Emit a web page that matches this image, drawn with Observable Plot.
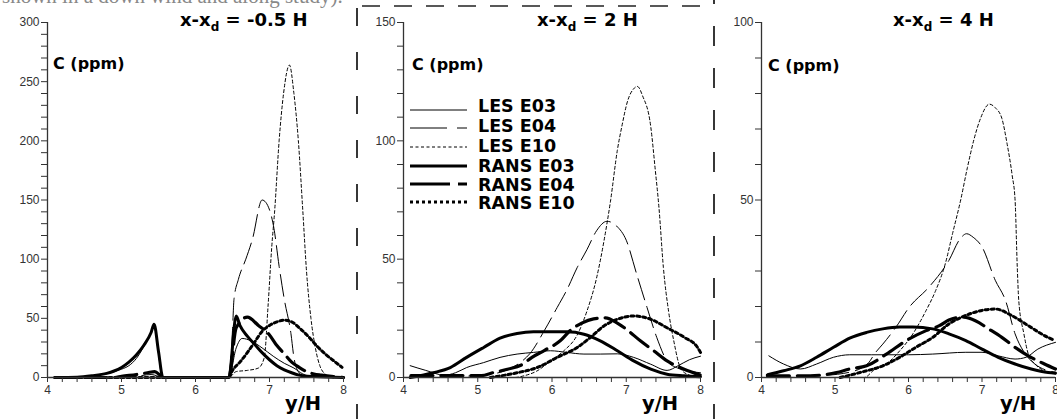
<!DOCTYPE html>
<html><head><meta charset="utf-8">
<script src="https://cdn.jsdelivr.net/npm/d3@7"></script>
<script src="https://cdn.jsdelivr.net/npm/@observablehq/plot@0.6"></script>
<style>
html,body{margin:0;padding:0;background:#fff;}
#wrap{position:relative;width:1057px;height:419px;overflow:hidden;background:#fff;}
.panel{position:absolute;top:0;}
#overlay{position:absolute;left:0;top:0;pointer-events:none;}
</style></head><body>
<div id="wrap"></div>
<script>
// ---------- categories / labels ----------
const seriesNames = ["LES E03","LES E04","LES E10","RANS E03","RANS E04","RANS E10"];
const panelTitles = ["-0.5","2","4"];
const panelYMax = [300,150,100];
const yLabelStep = 50;
const xAxisLabel = "y/H";
const yAxisLabel = "C (ppm)";

// ---------- Panel 1 : x-xd = -0.5 H ----------
const p1_LES_E03 = [[4.1,0],[4.5,0.5],[4.7,2],[4.85,4],[5.0,7],[5.1,10],[5.2,16],[5.3,26],[5.4,38],[5.44,43],[5.5,20],[5.55,0],[6.45,0],[6.55,25],[6.63,33],[6.75,31],[6.9,25],[7.05,18],[7.2,12],[7.33,8],[7.45,3],[7.6,0.5],[8,0]];
const p1_LES_E04 = [[4.1,0],[5.0,0],[5.2,1],[5.4,2.5],[5.5,1],[5.56,0],[6.45,0],[6.5,40],[6.52,66],[6.58,83],[6.68,100],[6.77,117],[6.9,150],[6.95,148],[7.06,126],[7.13,94],[7.2,66],[7.29,37],[7.33,17],[7.4,4],[7.5,0],[8,0]];
const p1_LES_E10 = [[4.1,0],[6.45,0],[6.55,5],[6.7,6],[6.85,8],[6.93,17],[6.98,60],[7.03,110],[7.07,141],[7.13,200],[7.19,240],[7.27,264],[7.33,240],[7.39,200],[7.45,141],[7.5,90],[7.56,50],[7.62,25],[7.68,10],[7.75,3],[7.85,0],[8,0]];
const p1_RANS_E03 = [[4.1,0],[4.4,0.3],[4.6,1.5],[4.8,3.5],[4.9,5.5],[5.0,8.5],[5.1,13],[5.2,19],[5.3,27],[5.4,38],[5.44,45],[5.5,22],[5.56,0],[6.45,0],[6.55,52],[6.6,44],[6.7,35],[6.8,28],[6.9,21],[7.0,15],[7.1,10],[7.2,6.5],[7.3,4],[7.4,2],[7.6,0.8],[8,0]];
const p1_RANS_E04 = [[4.1,0],[4.9,0],[5.0,1],[5.2,2.5],[5.35,4],[5.45,5],[5.52,2],[5.56,0],[6.45,0],[6.55,42],[6.7,51],[6.85,44],[7.0,36],[7.1,27],[7.2,20],[7.3,13],[7.4,8.6],[7.5,5],[7.6,3],[7.7,2],[8,0]];
const p1_RANS_E10 = [[4.1,0],[6.45,0],[6.5,6],[6.6,13],[6.7,21],[6.8,30],[6.9,39],[7.0,44],[7.1,47],[7.2,48.5],[7.3,47],[7.42,41],[7.55,33],[7.65,26],[7.75,20],[7.87,14],[7.98,8.6]];

// ---------- Panel 2 : x-xd = 2 H ----------
const p2_LES_E03 = [[4.09,5],[4.3,3],[4.55,1],[4.7,2],[4.85,4.2],[5.08,6.3],[5.3,8.5],[5.53,9.9],[5.75,10.6],[5.98,11.3],[6.2,10.6],[6.43,9.9],[6.65,9.9],[6.88,10],[7.1,8.5],[7.33,5.6],[7.55,3],[7.7,5],[7.85,7.5],[8,9]];
const p2_LES_E04 = [[4.1,0],[4.8,0.5],[5.2,1.5],[5.45,4],[5.6,7],[5.7,10],[5.9,20],[6.07,29.6],[6.2,37],[6.34,46.5],[6.47,54],[6.6,62],[6.74,66],[6.87,64],[7.0,58],[7.14,43.7],[7.28,29.6],[7.41,17],[7.55,7],[7.69,4],[7.8,3],[8,2]];
const p2_LES_E10 = [[4.1,0],[5.5,0],[5.62,0.7],[5.8,2.8],[5.98,7],[6.16,11.3],[6.34,18],[6.47,28],[6.6,42],[6.7,57.7],[6.79,75],[6.88,96],[6.94,106],[7.02,117],[7.1,122],[7.15,123],[7.22,119],[7.33,106],[7.39,88],[7.44,72],[7.5,46.5],[7.57,28],[7.64,15.5],[7.73,4],[7.82,1.4],[8,0]];
const p2_RANS_E03 = [[4.09,0],[4.4,2],[4.63,4.2],[4.85,8.5],[5.08,12.7],[5.3,16.6],[5.53,18.6],[5.75,19.3],[5.98,19.3],[6.2,19.3],[6.43,18.3],[6.65,15.5],[6.88,11.3],[7.1,7],[7.33,3.5],[7.55,1.4],[7.78,0.7],[8,0.3]];
const p2_RANS_E04 = [[4.1,0.8],[5.05,0.8],[5.2,2],[5.4,3.5],[5.6,5.5],[5.73,8.5],[5.9,11.5],[6.11,15.5],[6.25,20],[6.4,23],[6.56,24.8],[6.72,25.2],[6.88,23],[7.0,20.4],[7.19,15.5],[7.37,11.3],[7.55,7],[7.78,3.5],[8,1]];
const p2_RANS_E10 = [[5.17,0],[5.53,2],[5.8,4.2],[6.07,8.5],[6.34,12.7],[6.52,17],[6.7,21.8],[6.88,24.6],[7.1,26],[7.33,24.6],[7.55,21],[7.78,17],[7.96,12.7],[8,10.6]];

// ---------- Panel 3 : x-xd = 4 H ----------
const p3_LES_E03 = [[4.1,6.1],[4.3,3.8],[4.53,2.4],[4.75,3.8],[4.98,5.7],[5.2,6.4],[5.5,6.4],[6.0,6.4],[6.33,6.6],[6.78,7.1],[7.0,7.1],[7.22,6.1],[7.45,5.2],[7.6,5.7],[7.76,8],[8,9.9]];
const p3_LES_E04 = [[4.1,0],[4.8,0.5],[5.2,1.5],[5.45,4],[5.55,7],[5.65,9.4],[5.83,14.2],[6.01,19.8],[6.28,25.5],[6.55,33],[6.7,39],[6.79,40.5],[6.88,39.5],[7.0,36.8],[7.18,27.4],[7.32,21.7],[7.45,12.3],[7.59,6.6],[7.72,3.8],[7.9,1.9],[8,1.5]];
const p3_LES_E10 = [[4.1,0],[5.4,0],[5.52,1.9],[5.7,3.8],[5.88,7.5],[6.06,12.3],[6.24,18.9],[6.37,24.5],[6.5,32],[6.6,40.6],[6.71,50],[6.8,59],[6.89,67],[6.98,73],[7.1,77],[7.18,76],[7.27,73],[7.34,66],[7.41,57],[7.45,50],[7.48,31],[7.5,21.7],[7.57,12.3],[7.63,6.6],[7.72,3.8],[7.85,1.9],[8,1]];
const p3_RANS_E03 = [[4.08,0.75],[4.3,1.9],[4.53,3.3],[4.75,5.7],[4.98,8.5],[5.2,11.1],[5.43,12.7],[5.65,13.7],[5.88,14.2],[6.06,14.2],[6.33,13.7],[6.55,12.3],[6.78,10.4],[7.0,8],[7.22,5.7],[7.45,3.8],[7.67,2.4],[7.9,1.4],[8,1.2]];
const p3_RANS_E04 = [[4.08,0.5],[4.66,0.5],[5.02,1.4],[5.2,2.4],[5.43,3.3],[5.7,6.6],[5.97,10.4],[6.24,13.2],[6.42,14.6],[6.55,16.2],[6.73,17],[6.91,16],[7.09,13.7],[7.27,11.3],[7.45,8.5],[7.63,6.1],[7.85,3.8],[8,2.4]];
const p3_RANS_E10 = [[5.07,0],[5.34,1.4],[5.65,3.3],[5.88,5.7],[6.1,8.5],[6.33,11.3],[6.55,15.1],[6.78,17.5],[7.0,18.9],[7.18,19.3],[7.4,17.5],[7.63,14.6],[7.85,11.8],[7.99,10.4]];

const panelData = [
  [p1_LES_E03,p1_LES_E04,p1_LES_E10,p1_RANS_E03,p1_RANS_E04,p1_RANS_E10],
  [p2_LES_E03,p2_LES_E04,p2_LES_E10,p2_RANS_E03,p2_RANS_E04,p2_RANS_E10],
  [p3_LES_E03,p3_LES_E04,p3_LES_E10,p3_RANS_E03,p3_RANS_E04,p3_RANS_E10]
];

// ---------- styles ----------
const lineStyle = {
  "LES E03":  {w:1,   dash:null},
  "LES E04":  {w:1,   dash:"22,7"},
  "LES E10":  {w:1,   dash:"3,2.5"},
  "RANS E03": {w:3,   dash:null},
  "RANS E04": {w:3.2, dash:"22,8"},
  "RANS E10": {w:3,   dash:"3,3"}
};
// panel geometry: [left, width, marginRight]
const geo = [[0,356,13],[356,357,13],[714,343,2]];

const wrap = document.getElementById("wrap");

panelData.forEach((sets, pi) => {
  const ymax = panelYMax[pi];
  const marks = [];
  sets.forEach((arr, si) => {
    const st = lineStyle[seriesNames[si]];
    marks.push(Plot.line(arr, {
      x: d => d[0], y: d => d[1],
      stroke: "#000", strokeWidth: st.w,
      strokeDasharray: st.dash, curve: "monotone-x", strokeLinejoin: "round"
    }));
  });
  marks.push(Plot.axisY({
    ticks: d3.range(0, ymax + 1, 10),
    tickFormat: d => d % yLabelStep === 0 ? String(d) : "",
    tickSize: 6, tickPadding: 2, label: null, stroke: "#333", fontSize: 12
  }));
  marks.push(Plot.axisX({
    ticks: d3.range(20, 41).map(i => i / 5),
    tickFormat: d => Number.isInteger(d) ? String(d) : "",
    tickSize: 5, tickPadding: 3, label: null, stroke: "#333", fontSize: 12
  }));
  marks.push(Plot.ruleX([4], {stroke: "#333", strokeWidth: 1.3}));
  marks.push(Plot.ruleY([0], {stroke: "#333", strokeWidth: 1.3}));

  const chart = Plot.plot({
    width: geo[pi][1], height: 419,
    marginLeft: 47, marginRight: geo[pi][2], marginTop: 22, marginBottom: 42,
    x: {domain: [4, 8]},
    y: {domain: [0, ymax]},
    style: {fontFamily: "'Liberation Sans', Arial, sans-serif", fontSize: "12px", color: "#333", background: "transparent", overflow: "visible"},
    marks
  });
  const div = document.createElement("div");
  div.className = "panel";
  div.style.left = geo[pi][0] + "px";
  div.appendChild(chart);
  wrap.appendChild(div);
});

// ---------- overlay annotations ----------
const ov = d3.select(wrap).append("svg").attr("id", "overlay").attr("width", 1057).attr("height", 419);

// fragment of a text line cut off at the top edge
ov.append("text").attr("x", 2).attr("y", 3).attr("font-family", "'Liberation Serif', serif")
  .attr("font-size", 21).attr("fill", "#888").text("shown in a down wind and along study).");

// separators
ov.append("line").attr("x1", 357).attr("x2", 357).attr("y1", 0).attr("y2", 419)
  .attr("stroke", "#222").attr("stroke-width", 1.8).attr("stroke-dasharray", "18,26").attr("stroke-dashoffset", -8);
ov.append("line").attr("x1", 714).attr("x2", 714).attr("y1", 0).attr("y2", 419)
  .attr("stroke", "#222").attr("stroke-width", 1.8).attr("stroke-dasharray", "20,22").attr("stroke-dashoffset", -26);
ov.append("line").attr("x1", 362).attr("x2", 706).attr("y1", 6).attr("y2", 6)
  .attr("stroke", "#222").attr("stroke-width", 1.6).attr("stroke-dasharray", "18,14");

// titles
const titleX = [180, 537, 893];
panelTitles.forEach((t, i) => {
  const tx = ov.append("text").attr("x", titleX[i]).attr("y", 26)
    .attr("font-family", "'DejaVu Sans', sans-serif").attr("font-weight", "bold").attr("font-size", 18).attr("fill", "#000");
  tx.append("tspan").text("x-x");
  tx.append("tspan").attr("font-size", 12).attr("dy", 5).text("d");
  tx.append("tspan").attr("dy", -5).text(" = " + t + " H");
});

// C (ppm)
[[53, 69], [412, 70], [768, 71]].forEach(([x, y]) => {
  ov.append("text").attr("x", x).attr("y", y).attr("font-family", "'DejaVu Sans', sans-serif")
    .attr("font-weight", "bold").attr("font-size", 16).attr("fill", "#000").text(yAxisLabel);
});
// y/H
[[285, 410], [642, 410], [1000, 410]].forEach(([x, y]) => {
  ov.append("text").attr("x", x).attr("y", y).attr("font-family", "'DejaVu Sans', sans-serif")
    .attr("font-weight", "bold").attr("font-size", 19.5).attr("fill", "#000").text(xAxisLabel);
});

// legend (panel 2)
const legTextY = [112, 132, 152, 172, 191, 209];
const legLineY = [110, 128, 147, 166, 184, 202];
seriesNames.forEach((s, i) => {
  const st = lineStyle[s];
  ov.append("line").attr("x1", 410).attr("x2", 467).attr("y1", legLineY[i]).attr("y2", legLineY[i])
    .attr("stroke", "#000").attr("stroke-width", st.w)
    .attr("stroke-dasharray", st.dash ? (s === "LES E04" ? "37,10" : s === "RANS E04" ? "40,8" : st.dash) : null);
  ov.append("text").attr("x", 478).attr("y", legTextY[i]).attr("font-family", "'DejaVu Sans', sans-serif")
    .attr("font-weight", "bold").attr("font-size", 17.5).attr("fill", "#000").text(s);
});
</script>
</body></html>
